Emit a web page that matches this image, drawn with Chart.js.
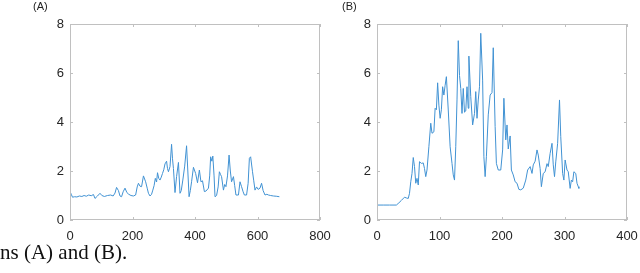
<!DOCTYPE html>
<html>
<head>
<meta charset="utf-8">
<script src="https://cdn.jsdelivr.net/npm/chart.js@4"></script>
<style>
  html, body { margin: 0; padding: 0; background: #fff; overflow: hidden; width: 640px; height: 273px; }
  .wrap { position: absolute; top: 0; }
  #wrapA { left: 0; width: 345px; height: 250px; }
  #wrapB { left: 330px; width: 330px; height: 250px; }
  .tag { position: absolute; top: 0px; font: 11px "Liberation Sans", Arial, sans-serif; color: #222; }
  #caption { position: absolute; left: 0; top: 240px; font: 21px "Liberation Serif", "Times New Roman", serif; color: #111; white-space: nowrap; }
</style>
</head>
<body>
<div class="wrap" id="wrapA"><canvas id="chartA" width="345" height="250"></canvas></div>
<div class="wrap" id="wrapB"><canvas id="chartB" width="330" height="250"></canvas></div>
<div class="tag" style="left:33px">(A)</div>
<div class="tag" style="left:342px">(B)</div>
<div id="caption">ns (A) and (B).</div>
<script>
// ===== DATA (A) =====
const xA = [0, 4, 8, 15, 22, 30, 38, 45, 52, 60, 68, 75, 80, 88, 96, 102, 110, 120, 130, 138, 144, 149, 155, 160, 165, 170, 176, 182, 188, 195, 203, 210, 215, 219, 224, 229, 235, 242, 247, 251, 256, 261, 265, 269, 273, 277, 280, 284, 288, 292, 296, 300, 304, 309, 312, 315, 320, 325, 328, 331, 336, 341, 347, 352, 356, 361, 367, 373, 377, 381, 385, 389, 395, 402, 408, 414, 419, 424, 430, 435, 443, 447, 450, 454, 457, 461, 464, 469, 474, 478, 482, 485, 491, 495, 499, 504, 509, 513, 517, 523, 527, 531, 539, 544, 549, 554, 558, 565, 570, 574, 578, 584, 588, 592, 597, 602, 608, 613, 618, 624, 630, 635, 642, 651, 660, 670];
const yA = [1.16, 1.05, 0.93, 0.95, 0.94, 0.98, 0.96, 1.00, 0.97, 1.02, 0.99, 1.04, 0.88, 0.98, 1.09, 1.00, 0.96, 1.00, 1.02, 0.98, 1.10, 1.33, 1.20, 0.98, 0.95, 1.15, 1.30, 1.12, 1.05, 1.00, 0.98, 1.02, 1.35, 1.50, 1.38, 1.36, 1.80, 1.56, 1.30, 1.09, 0.98, 1.05, 1.22, 1.40, 1.70, 1.55, 1.93, 1.70, 1.63, 1.75, 1.90, 2.05, 2.29, 2.40, 2.10, 1.97, 2.18, 3.09, 2.50, 2.10, 1.12, 1.77, 2.35, 1.09, 1.20, 1.63, 2.20, 3.03, 2.00, 0.95, 1.20, 1.56, 2.15, 1.90, 1.52, 2.04, 1.56, 1.60, 1.16, 1.18, 1.30, 1.80, 2.58, 2.40, 2.61, 1.80, 0.95, 1.00, 1.35, 1.97, 1.85, 1.77, 1.22, 1.45, 1.36, 1.80, 2.65, 2.00, 1.56, 1.77, 1.40, 1.02, 1.02, 1.56, 1.36, 1.15, 1.02, 1.02, 1.50, 2.52, 2.58, 1.97, 1.60, 1.22, 1.35, 1.25, 1.30, 1.50, 1.20, 1.02, 1.05, 1.02, 1.00, 0.98, 0.97, 0.95];

// ===== DATA (B) =====
const xB = [0, 10, 20, 31, 35, 39, 44, 47, 50, 52, 54, 56, 58, 60, 62, 64, 66, 68, 71, 74, 76, 78, 80, 83, 86, 88, 91, 93, 95, 97, 99, 101, 103, 105, 107, 109, 111, 114, 117, 120, 122, 124, 126, 128, 130, 132, 134, 136, 138, 140, 142, 144, 146, 147, 150, 153, 156, 158, 160, 162, 164, 166, 169, 171, 173, 175, 178, 181, 184, 186, 189, 191, 194, 198, 201, 203, 206, 208, 210, 213, 215, 218, 221, 224, 227, 230, 234, 238, 241, 245, 248, 250, 253, 256, 258, 261, 263, 266, 269, 272, 274, 277, 280, 282, 284, 286, 289, 292, 294, 297, 299, 301, 304, 306, 309, 311, 313, 315, 318, 320, 322, 323];
const yB = [0.61, 0.61, 0.61, 0.61, 0.70, 0.80, 0.93, 0.90, 0.88, 1.09, 1.56, 1.90, 2.55, 2.18, 1.50, 1.70, 1.43, 2.38, 2.31, 2.33, 2.10, 1.77, 2.04, 2.99, 3.95, 3.54, 3.60, 4.56, 4.50, 5.60, 4.69, 4.15, 4.50, 5.44, 5.10, 5.50, 5.85, 4.49, 2.99, 2.31, 1.84, 1.63, 2.99, 4.90, 7.32, 5.90, 5.37, 4.35, 5.37, 4.40, 4.45, 5.44, 4.56, 6.69, 5.03, 3.88, 4.35, 5.24, 4.15, 4.90, 5.44, 7.62, 5.71, 2.58, 1.77, 2.58, 4.29, 5.10, 5.20, 7.03, 3.81, 2.31, 2.04, 2.04, 2.86, 4.97, 3.27, 3.88, 2.90, 3.43, 2.04, 1.84, 1.56, 1.50, 1.25, 1.23, 1.30, 1.63, 2.04, 2.18, 1.90, 2.25, 2.40, 2.86, 2.65, 2.10, 1.36, 1.90, 1.97, 2.30, 2.18, 2.72, 3.13, 2.25, 1.77, 2.37, 3.13, 4.90, 3.40, 1.90, 1.63, 2.45, 2.04, 1.97, 1.29, 1.63, 1.56, 1.97, 1.90, 1.50, 1.36, 1.29];

const yTicks = [0, 2, 4, 6, 8];
const xTicksA = [0, 200, 400, 600, 800];
const xTicksB = [0, 100, 200, 300, 400];

// ===== STYLE HELPERS =====
const FONT = { family: "Liberation Sans, Arial, sans-serif", size: 13 };
const TEXT = "#262626";
const BOX = "#c0c0c0";
const LINE = "#4192d3";

// MATLAB-like box with inward ticks on all four sides
const boxPlugin = {
  id: "boxTicks",
  afterDatasetsDraw(chart) {
    const { ctx, chartArea: a, scales } = chart;
    ctx.save();
    ctx.strokeStyle = BOX;
    ctx.lineWidth = 1;
    ctx.strokeRect(a.left + 0.5, a.top + 0.5, a.right - a.left - 1, a.bottom - a.top - 1);
    ctx.beginPath();
    scales.x.ticks.forEach(t => {
      const px = Math.round(scales.x.getPixelForValue(t.value)) + 0.5;
      ctx.moveTo(px, a.bottom); ctx.lineTo(px, a.bottom - 3);
      ctx.moveTo(px, a.top); ctx.lineTo(px, a.top + 3);
    });
    scales.y.ticks.forEach(t => {
      const py = Math.round(scales.y.getPixelForValue(t.value)) + 0.5;
      ctx.moveTo(a.left, py); ctx.lineTo(a.left + 3, py);
      ctx.moveTo(a.right, py); ctx.lineTo(a.right - 3, py);
    });
    ctx.stroke();
    ctx.restore();
  }
};

function makeChart(id, xs, ys, xMax, xTicks, leftW, padRight) {
  const pts = xs.map((x, i) => ({ x: x, y: ys[i] }));
  return new Chart(document.getElementById(id), {
    type: "line",
    data: { datasets: [{ data: pts, borderColor: LINE, borderWidth: 1, pointRadius: 0, tension: 0, fill: false }] },
    options: {
      responsive: false,
      animation: false,
      layout: { padding: { top: 24, right: padRight, left: 0, bottom: 0 } },
      plugins: { legend: { display: false }, tooltip: { enabled: false } },
      scales: {
        x: {
          type: "linear", min: 0, max: xMax,
          afterBuildTicks: s => { s.ticks = xTicks.map(v => ({ value: v })); },
          afterFit: s => { s.height = 30; },
          grid: { display: false, drawTicks: false },
          border: { display: false },
          ticks: { color: TEXT, font: FONT, padding: 9, maxRotation: 0 }
        },
        y: {
          min: 0, max: 8,
          afterBuildTicks: s => { s.ticks = yTicks.map(v => ({ value: v })); },
          afterFit: s => { s.width = leftW; },
          grid: { display: false, drawTicks: false },
          border: { display: false },
          ticks: { color: TEXT, font: FONT, padding: 6 }
        }
      }
    },
    plugins: [boxPlugin]
  });
}

makeChart("chartA", xA, yA, 800, xTicksA, 70, 25);
makeChart("chartB", xB, yB, 400, xTicksB, 47, 33);
</script>
</body>
</html>
